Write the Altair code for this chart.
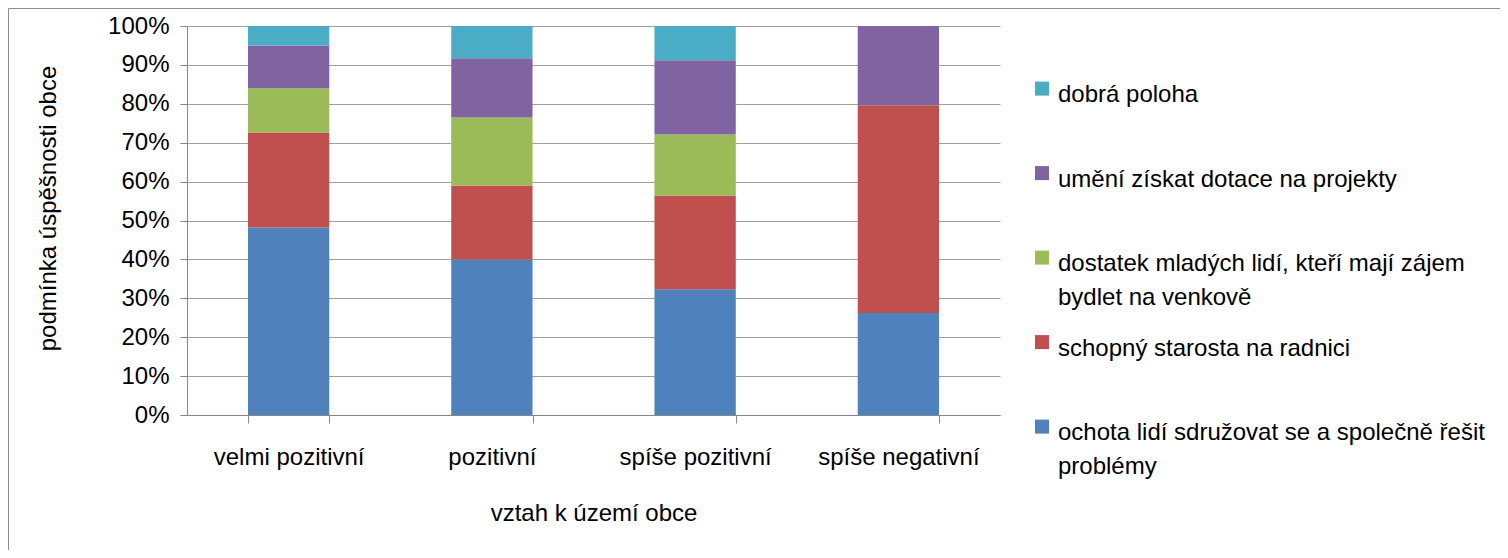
import json
import altair as alt
import pandas as pd

# ---- data ----
categories = ["velmi pozitivní", "pozitivní", "spíše pozitivní", "spíše negativní"]

series = [
    "ochota lidí sdružovat se a společně řešit problémy",
    "schopný starosta na radnici",
    "dostatek mladých lidí, kteří mají zájem bydlet na venkově",
    "umění získat dotace na projekty",
    "dobrá poloha",
]

ochota = [48.2, 40.0, 32.3, 26.2]
schopny = [24.4, 19.0, 24.1, 53.4]
dostatek = [11.4, 17.5, 15.7, 0.0]
umeni = [11.0, 15.2, 19.1, 20.4]
dobra = [5.0, 8.3, 8.8, 0.0]

colors = ["#4F81BD", "#C0504D", "#9BBB59", "#8064A2", "#4BACC6"]

y_ticks = [0, 0.1, 0.2, 0.3, 0.4, 0.5, 0.6, 0.7, 0.8, 0.9, 1.0]

wrapped = {
    "dostatek mladých lidí, kteří mají zájem bydlet na venkově":
        ["dostatek mladých lidí, kteří mají zájem", "bydlet na venkově"],
    "ochota lidí sdružovat se a společně řešit problémy":
        ["ochota lidí sdružovat se a společně řešit", "problémy"],
}

# ---- build table ----
rows = []
for si, (name, vals) in enumerate(zip(series, [ochota, schopny, dostatek, umeni, dobra])):
    for c, v in zip(categories, vals):
        rows.append({"kategorie": c, "podminka": name, "hodnota": v, "poradi": si})
df = pd.DataFrame(rows)

legend_order = series[::-1]
legend_colors = colors[::-1]

expr = "datum.label"
for k, lines in wrapped.items():
    expr = f"datum.label == {json.dumps(k, ensure_ascii=False)} ? {json.dumps(lines, ensure_ascii=False)} : " + expr

FONT = "Liberation Sans"
FS = 24
AXIS_C = "#868686"

bars = alt.Chart(df).mark_bar().encode(
    x=alt.X(
        "kategorie:N",
        sort=categories,
        scale=alt.Scale(paddingInner=0.6, paddingOuter=0.3),
        axis=alt.Axis(
            title="vztah k území obce",
            labelAngle=0,
            tickBand="extent",
            tickSize=8,
            labelPadding=22,
            labelFontSize=FS,
            labelColor="black",
            titleFontSize=FS,
            titleFontWeight="normal",
            titleColor="black",
            titleBaseline="top",
            titleY=86,
            domainColor=AXIS_C,
            tickColor=AXIS_C,
            grid=False,
        ),
    ),
    y=alt.Y(
        "hodnota:Q",
        stack="normalize",
        scale=alt.Scale(domain=[0, 1]),
        axis=alt.Axis(
            title="podmínka úspěšnosti obce",
            values=y_ticks,
            format=".0%",
            tickSize=7,
            labelPadding=11,
            labelFontSize=FS,
            labelColor="black",
            titleFontSize=FS,
            titleFontWeight="normal",
            titleColor="black",
            titleAngle=270,
            titleBaseline="bottom",
            titleAlign="center",
            titleX=-127,
            titleY=182,
            domainColor=AXIS_C,
            tickColor=AXIS_C,
            gridColor="#a0a0a0",
        ),
    ),
    color=alt.Color(
        "podminka:N",
        sort=legend_order,
        scale=alt.Scale(domain=legend_order, range=legend_colors),
        legend=alt.Legend(
            title=None,
            orient="none",
            legendX=843,
            legendY=45,
            padding=0,
            labelFontSize=FS,
            labelColor="black",
            labelBaseline="top",
            labelExpr=expr,
            labelLimit=480,
            labelOffset=4,
            symbolType="M-1,-0.2H1V1.8H-1Z",
            symbolSize=196,
            symbolStrokeWidth=0,
            symbolOpacity=1,
            gridAlign="all",
            rowPadding=14.5,
        ),
    ),
    order=alt.Order("poradi:Q", sort="ascending"),
)

frame_df = pd.DataFrame({"f": [0]})
frame_left = alt.Chart(frame_df).mark_rule(color="#8c8c8c", strokeWidth=1).encode(
    x=alt.value(-178.5), y=alt.value(-17.5), y2=alt.value(700)
)
frame_top = alt.Chart(frame_df).mark_rule(color="#8c8c8c", strokeWidth=1).encode(
    x=alt.value(-178.5), x2=alt.value(1400), y=alt.value(-17.5)
)

chart = (
    alt.layer(bars, frame_left, frame_top)
    .properties(
        width=813,
        height=389,
        autosize=alt.AutoSizeParams(type="none"),
        padding={"left": 179, "top": 18, "right": 500, "bottom": 135},
    )
    .configure(font=FONT, style={"guide-label": {"lineHeight": 34}})
    .configure_view(strokeWidth=0)
)

chart.save("out.html", embed_options={"renderer": "svg", "actions": False})
